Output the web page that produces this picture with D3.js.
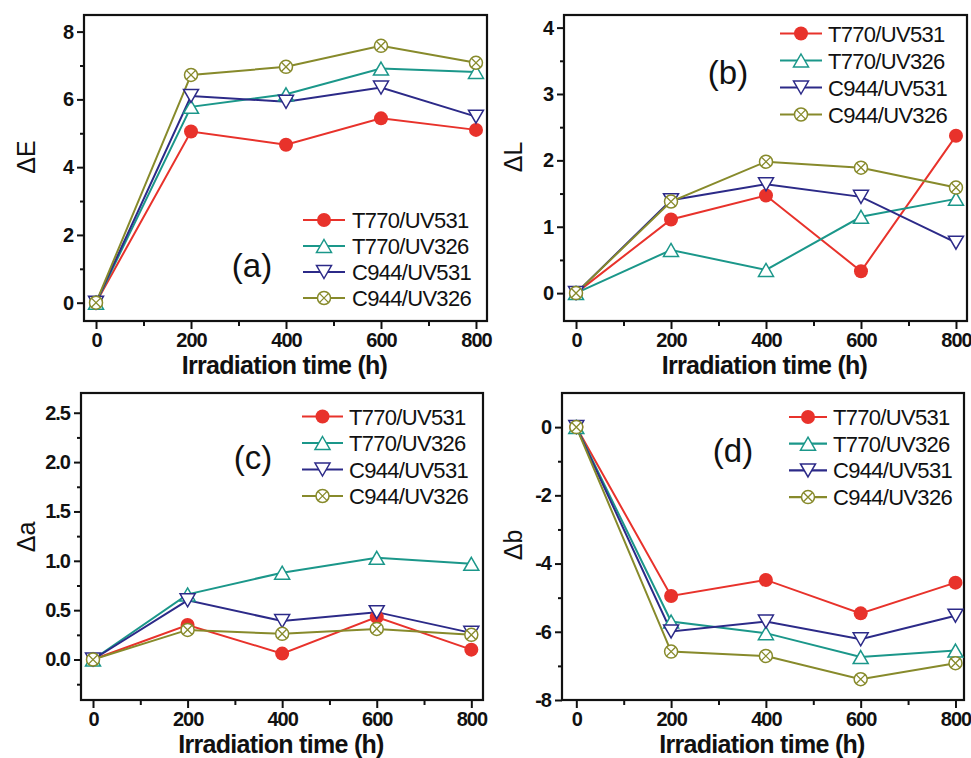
<!DOCTYPE html>
<html>
<head>
<meta charset="utf-8">
<script src="https://cdn.jsdelivr.net/npm/d3@7"></script>
<style>
  body { margin: 0; background: #fff; }
  svg { display: block; font-family: 'Liberation Sans', Arial, sans-serif; }
</style>
</head>
<body>
<svg id="chart" width="971" height="758"></svg>
<script>
'use strict';

const times = [0, 200, 400, 600, 800];
const seriesNames = ['T770/UV531', 'T770/UV326', 'C944/UV531', 'C944/UV326'];

// (a) delta E
const dE_T770_UV531 = [0, 5.05, 4.66, 5.44, 5.10];
const dE_T770_UV326 = [0, 5.78, 6.15, 6.91, 6.81];
const dE_C944_UV531 = [0, 6.10, 5.93, 6.35, 5.49];
const dE_C944_UV326 = [0, 6.72, 6.96, 7.58, 7.08];

// (b) delta L
const dL_T770_UV531 = [0, 1.11, 1.47, 0.33, 2.37];
const dL_T770_UV326 = [0, 0.65, 0.35, 1.15, 1.42];
const dL_C944_UV531 = [0, 1.40, 1.64, 1.45, 0.76];
const dL_C944_UV326 = [0, 1.38, 1.98, 1.89, 1.59];

// (c) delta a
const da_T770_UV531 = [0, 0.35, 0.06, 0.43, 0.10];
const da_T770_UV326 = [0, 0.66, 0.88, 1.03, 0.97];
const da_C944_UV531 = [0, 0.60, 0.39, 0.48, 0.27];
const da_C944_UV326 = [0, 0.30, 0.26, 0.31, 0.25];

// (d) delta b
const db_T770_UV531 = [0, -4.95, -4.48, -5.46, -4.56];
const db_T770_UV326 = [0, -5.70, -6.04, -6.74, -6.55];
const db_C944_UV531 = [0, -5.99, -5.70, -6.22, -5.53];
const db_C944_UV326 = [0, -6.58, -6.71, -7.39, -6.92];

const xTicks = [0, 200, 400, 600, 800];
const xMinor = [100, 300, 500, 700];

const colors = ['#e8322b', '#1b978a', '#2c2a88', '#878a2b'];
const markers = ['circle', 'up', 'down', 'circlex'];

// plain hyphen for negatives, like the original plot
const intFmt = d => String(d);

const panels = [
  {
    tag: '(a)', ytitle: '\u0394E',
    values: [dE_T770_UV531, dE_T770_UV326, dE_C944_UV531, dE_C944_UV326],
    yTicks: [0, 2, 4, 6, 8], yMinor: [1, 3, 5, 7], yFmt: intFmt,
    box: {l: 84, r: 487, t: 15, b: 321}, xDom: [-25.3, 823.2], yDom: [-0.54, 8.49],
    legend: {x1: 303, x2: 345, tx: 352, y: 220, dy: 26},
    tagPos: [252, 265], ytPos: [35, 157]
  },
  {
    tag: '(b)', ytitle: '\u0394L',
    values: [dL_T770_UV531, dL_T770_UV326, dL_C944_UV531, dL_C944_UV326],
    yTicks: [0, 1, 2, 3, 4], yMinor: [0.5, 1.5, 2.5, 3.5], yFmt: intFmt,
    box: {l: 564, r: 967, t: 15, b: 321}, xDom: [-25.3, 823.2], yDom: [-0.42, 4.19],
    legend: {x1: 780, x2: 822, tx: 828, y: 33.5, dy: 27},
    tagPos: [728, 72], ytPos: [522, 157]
  },
  {
    tag: '(c)', ytitle: '\u0394a',
    values: [da_T770_UV531, da_T770_UV326, da_C944_UV531, da_C944_UV326],
    yTicks: [0, 0.5, 1, 1.5, 2, 2.5], yMinor: [-0.25, 0.25, 0.75, 1.25, 1.75, 2.25], yFmt: d3.format('.1f'),
    box: {l: 81, r: 483, t: 393, b: 700}, xDom: [-25.4, 824.7], yDom: [-0.41, 2.70],
    legend: {x1: 302, x2: 343, tx: 349, y: 416.5, dy: 26.5},
    tagPos: [253, 457], ytPos: [35, 537]
  },
  {
    tag: '(d)', ytitle: '\u0394b',
    values: [db_T770_UV531, db_T770_UV326, db_C944_UV531, db_C944_UV326],
    yTicks: [-8, -6, -4, -2, 0], yMinor: [-7, -5, -3, -1], yFmt: intFmt,
    box: {l: 562, r: 964, t: 393, b: 700}, xDom: [-30.2, 818], yDom: [-8, 1],
    legend: {x1: 789, x2: 827, tx: 833, y: 417, dy: 26.7},
    tagPos: [733, 450], ytPos: [522, 545]
  }
];

const svg = d3.select('#chart');

const drawMarker = (g, type, color) => {
  if (type === 'circle') {
    g.append('circle').attr('r', 7).attr('fill', color);
  } else if (type === 'up') {
    g.append('path').attr('d', 'M0,-6.5L7.5,6.5L-7.5,6.5Z')
      .attr('fill', '#fff').attr('stroke', color).attr('stroke-width', 1.5);
  } else if (type === 'down') {
    g.append('path').attr('d', 'M0,6.5L7.5,-6.5L-7.5,-6.5Z')
      .attr('fill', '#fff').attr('stroke', color).attr('stroke-width', 1.5);
  } else {
    g.append('circle').attr('r', 6.5)
      .attr('fill', '#fff').attr('stroke', color).attr('stroke-width', 1.5);
    g.append('path').attr('d', 'M-4.6,-4.6L4.6,4.6M-4.6,4.6L4.6,-4.6')
      .attr('stroke', color).attr('stroke-width', 1.3);
  }
};

panels.forEach(p => {
  const b = p.box;
  const x = d3.scaleLinear().domain(p.xDom).range([b.l, b.r]);
  const y = d3.scaleLinear().domain(p.yDom).range([b.b, b.t]);
  const g = svg.append('g');

  // axes
  g.append('g').attr('transform', `translate(0,${b.b})`)
    .call(d3.axisBottom(x).tickValues(xTicks).tickSize(8).tickSizeOuter(0).tickPadding(4).tickFormat(intFmt));
  g.append('g').attr('transform', `translate(0,${b.b})`)
    .call(d3.axisBottom(x).tickValues(xMinor).tickSize(5).tickSizeOuter(0).tickFormat(''));
  g.append('g').attr('transform', `translate(${b.l},0)`)
    .call(d3.axisLeft(y).tickValues(p.yTicks).tickSize(7).tickSizeOuter(0).tickPadding(4).tickFormat(p.yFmt));
  g.append('g').attr('transform', `translate(${b.l},0)`)
    .call(d3.axisLeft(y).tickValues(p.yMinor).tickSize(4).tickSizeOuter(0).tickFormat(''));

  g.selectAll('.domain').remove();
  g.selectAll('.tick line').attr('stroke', '#111').attr('stroke-width', 2);
  g.selectAll('.tick text')
    .attr('fill', '#111')
    .style('font-size', '20px')
    .style('font-weight', 'bold')
    .style('letter-spacing', '-1px');

  // frame
  g.append('rect')
    .attr('x', b.l).attr('y', b.t)
    .attr('width', b.r - b.l).attr('height', b.b - b.t)
    .attr('fill', 'none').attr('stroke', '#111').attr('stroke-width', 2.2);

  // series
  p.values.forEach((vals, i) => {
    const pts = times.map((t, k) => [t, vals[k]]);
    g.append('path')
      .datum(pts)
      .attr('fill', 'none')
      .attr('stroke', colors[i])
      .attr('stroke-width', 2)
      .attr('d', d3.line().x(d => x(d[0])).y(d => y(d[1])));
  });
  p.values.forEach((vals, i) => {
    times.forEach((t, k) => {
      const m = g.append('g').attr('transform', `translate(${x(t)},${y(vals[k])})`);
      drawMarker(m, markers[i], colors[i]);
    });
  });

  // legend
  const L = p.legend;
  seriesNames.forEach((name, i) => {
    const yy = L.y + i * L.dy;
    g.append('line')
      .attr('x1', L.x1).attr('x2', L.x2).attr('y1', yy).attr('y2', yy)
      .attr('stroke', colors[i]).attr('stroke-width', 2.2);
    const m = g.append('g').attr('transform', `translate(${(L.x1 + L.x2) / 2},${yy})`);
    drawMarker(m, markers[i], colors[i]);
    g.append('text')
      .attr('x', L.tx).attr('y', yy + 8)
      .attr('fill', '#111')
      .style('font-size', '22px')
      .style('letter-spacing', '-0.7px')
      .text(name);
  });

  // panel tag
  g.append('text')
    .attr('x', p.tagPos[0]).attr('y', p.tagPos[1] + 12)
    .attr('text-anchor', 'middle')
    .attr('fill', '#111')
    .style('font-size', '33px')
    .text(p.tag);

  // axis titles
  g.append('text')
    .attr('x', (b.l + b.r) / 2 - 1).attr('y', b.b + 53)
    .attr('text-anchor', 'middle')
    .attr('fill', '#111')
    .style('font-size', '25px')
    .style('font-weight', 'bold')
    .style('letter-spacing', '-0.7px')
    .text('Irradiation time (h)');

  g.append('text')
    .attr('transform', `translate(${p.ytPos[0]},${p.ytPos[1]}) rotate(-90)`)
    .attr('text-anchor', 'middle')
    .attr('fill', '#111')
    .style('font-size', '25px')
    .text(p.ytitle);
});
</script>
</body>
</html>
